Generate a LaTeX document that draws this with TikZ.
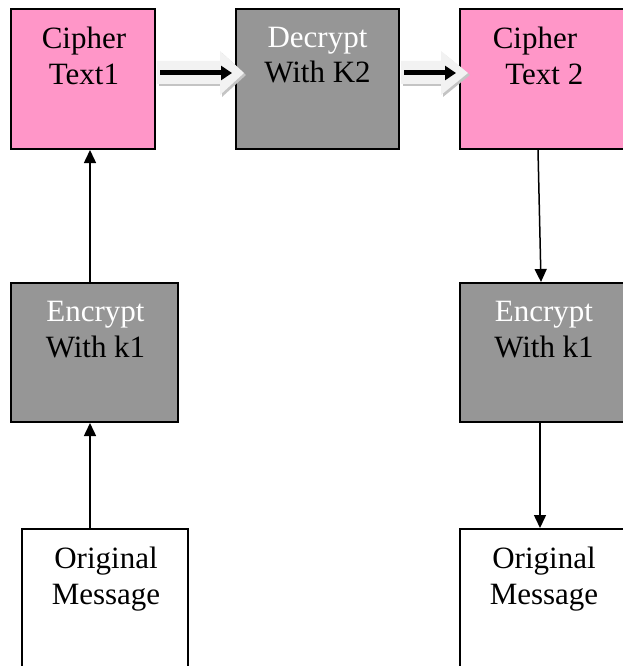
\documentclass[tikz,border=0pt]{standalone}
\usepackage{fontspec}
\setmainfont{Liberation Serif}
\usetikzlibrary{arrows.meta,calc}
\definecolor{cipherpink}{HTML}{FF96C8}
\definecolor{stepgray}{HTML}{969696}
\definecolor{blockfill}{HTML}{F2F2F2}
\definecolor{blockshade}{HTML}{C4C4C4}
\tikzset{
  box/.style={draw=black,line width=2pt,inner sep=0pt,anchor=north west},
  pinkbox/.style={box,fill=cipherpink},
  graybox/.style={box,fill=stepgray},
  whitebox/.style={box,fill=white},
  caption/.style={anchor=north,inner sep=0pt,align=center,
    font=\fontsize{31}{35.5}\selectfont},
  flow/.style={line width=1.5pt,-{Triangle[length=13pt,width=12pt]}},
  inner arrow/.style={line width=5pt,-{Triangle[length=11pt,width=14pt]}},
}
\begin{document}
\begin{tikzpicture}[x=1pt,y=-1pt]
  \useasboundingbox (0,0) rectangle (623,666);

  % boxes
  \node[pinkbox,minimum width=144pt,minimum height=140pt] (c1) at (10,8) {};
  \node[graybox,minimum width=163pt,minimum height=140pt] (dec) at (235,8) {};
  \node[pinkbox,minimum width=168pt,minimum height=140pt] (c2) at (459,8) {};
  \node[graybox,minimum width=167pt,minimum height=139pt] (encL) at (10,282) {};
  \node[graybox,minimum width=168pt,minimum height=139pt] (encR) at (459,282) {};
  \node[whitebox,minimum width=166pt,minimum height=160pt] (orgL) at (21,528) {};
  \node[whitebox,minimum width=168pt,minimum height=160pt] (orgR) at (459,528) {};

  % captions
  \node[caption] (t1) at ($(c1.north)+(1,19)$) {Cipher\\Text1};
  \node[caption] (t2) at ($(dec.north)+(0,19)$) {\textcolor{white}{Decrypt}\\With K2};
  \node[caption] (t3) at ($(c2.north)+(-9,19)$) {Cipher\\\hspace*{0.6em}Text 2};
  \node[caption] (t4) at ($(encL.north)+(1,19)$) {\textcolor{white}{Encrypt}\\With k1};
  \node[caption] (t5) at ($(encR.north)+(0,19)$) {\textcolor{white}{Encrypt}\\With k1};
  \node[caption] (t6) at ($(orgL.north)+(1,19)$) {Original\\Message};
  \node[caption] (t7) at ($(orgR.north)+(0,19)$) {Original\\Message};

  % vertical connectors
  \draw[flow] ([xshift=-15pt]orgL.north) -- ([xshift=-4.5pt]encL.south);
  \draw[flow] ([xshift=-4.5pt]encL.north) -- ([xshift=7pt]c1.south);
  \draw[flow] ([xshift=-6pt]c2.south) -- ([xshift=-3pt]encR.north);
  \draw[flow] ([xshift=-4pt]encR.south) -- ([xshift=-4pt]orgR.north);

  % block arrows between the top boxes
  \foreach \a/\b/\head in {c1/dec/24, dec/c2/27} {
    \coordinate (s) at ($(\a.east)+(1,-6)$);
    \coordinate (e) at ($(\b.west)+(9,-6)$);
    \fill[blockshade] ($(s)+(2,13)$) -- ($(e)+(-\head+2,13)$) -- ($(e)+(-\head+2,24)$)
      -- ($(e)+(2,2)$) -- ($(e)+(-\head+2,-20)$) -- ($(e)+(-\head+2,-10)$)
      -- ($(s)+(2,-10)$) -- cycle;
    \fill[blockfill] ($(s)+(0,11)$) -- ($(e)+(-\head,11)$) -- ($(e)+(-\head,22)$)
      -- (e) -- ($(e)+(-\head,-22)$) -- ($(e)+(-\head,-12)$)
      -- ($(s)+(0,-12)$) -- cycle;
    \draw[inner arrow] ($(s)+(3,0)$) -- ($(e)+(-12,0)$);
  }
\end{tikzpicture}
\end{document}
